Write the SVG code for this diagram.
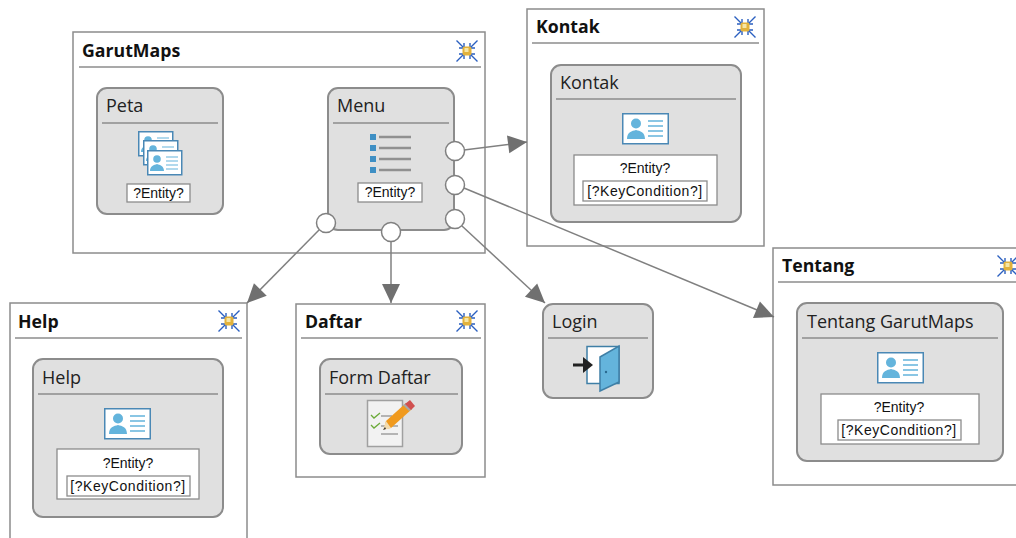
<svg xmlns="http://www.w3.org/2000/svg" width="1016" height="538" viewBox="0 0 1016 538">
<style>
.win{fill:#fff;stroke:#8c8c8c;stroke-width:1.5}
.box{fill:#e0e0e0;stroke:#8c8c8c;stroke-width:2}
.sep{stroke:#8c8c8c;stroke-width:1.5;fill:none}
.wt{font:bold 17.7px "Open Sans","Noto Sans",sans-serif;fill:#111}
.nt{font:18px "Open Sans","Noto Sans",sans-serif;fill:#222}
.lb{font:14px "Liberation Sans",Arial,sans-serif;fill:#111;text-anchor:middle}
.kc{letter-spacing:.55px}
.wb{fill:#fff;stroke:#8c8c8c;stroke-width:1.3}
.conn{fill:none;stroke:#808080;stroke-width:1.5}
.port{fill:#fff;stroke:#808080;stroke-width:1.5}
</style>
<defs>
<marker id="arr" markerUnits="userSpaceOnUse" markerWidth="21" markerHeight="20" refX="20" refY="10" orient="auto"><path d="M1 1L20 10L1 19Z" fill="#707070"/></marker>
<g id="card">
<rect x="0.75" y="0.75" width="45.5" height="30" fill="#fff" stroke="#4a88b5" stroke-width="1.5"/>
<circle cx="14" cy="10.5" r="5" fill="#64b4dc"/>
<path d="M5 26C5 19 10 18 14 17C18 18 23 19 23 26Z" fill="#64b4dc"/>
<path d="M26 8H41M26 13H41M26 18H41M26 23H41" stroke="#64b4dc" stroke-width="1.5"/>
</g>
<g id="small">
<rect x="0.75" y="0.75" width="34" height="24" fill="#fff" stroke="#4a88b5" stroke-width="1.5"/>
<circle cx="10" cy="9" r="3.8" fill="#64b4dc"/>
<path d="M3 21C3 16 7 15 10 14C13 15 17 16 17 21Z" fill="#64b4dc"/>
<path d="M19 7H31M19 11H31M19 15H31M19 19H31" stroke="#64b4dc" stroke-width="1.2"/>
</g>
<g id="collapse">
<path d="M-10.500-10.500L-3-3M10.500-10.500L3-3M-10.500 10.500L-3 3M10.500 10.500L3 3" stroke="#2a5fc0" stroke-width="1.4" fill="none"/>
<path d="M-3-8V-3H-8M3-8V-3H8M-3 8V3H-8M3 8V3H8" stroke="#2a5fc0" stroke-width="1.4" fill="none"/>
<rect x="-4.500" y="-4.500" width="9" height="9" rx="2" fill="#e2b23c"/>
<rect x="-2.500" y="-3" width="4" height="4" fill="#f6e6a6"/>
</g>
</defs>

<g id="garutmaps">
<rect class="win" x="73" y="32" width="412" height="221"/>
<text class="wt" x="82" y="57">GarutMaps</text>
<path class="sep" d="M79 67H481"/>
<use href="#collapse" x="467" y="51"/>
</g>
<g id="peta">
<rect class="box" x="97" y="88" width="126" height="126" rx="10"/>
<text class="nt" x="106" y="112">Peta</text>
<path class="sep" d="M102 123H218"/>
<use href="#small" x="138" y="131"/>
<use href="#small" x="143" y="140"/>
<use href="#small" x="147" y="150"/>
<rect class="wb" x="127" y="184" width="63" height="18"/>
<text class="lb" x="158.500" y="198">?Entity?</text>
</g>
<g id="menu">
<rect class="box" x="328" y="88" width="126" height="142" rx="10"/>
<text class="nt" x="337" y="112">Menu</text>
<path class="sep" d="M333 123H449"/>
<path d="M370 134h6v6h-6zM370 145h6v6h-6zM370 156h6v6h-6zM370 167h6v6h-6z" fill="#3e8fc4"/>
<path d="M379 137H411M379 148H411M379 159H411M379 170H411" stroke="#909090" stroke-width="2.500"/>
<rect class="wb" x="358" y="183" width="64" height="19"/>
<text class="lb" x="390" y="197">?Entity?</text>
</g>
<g id="kontak">
<rect class="win" x="527" y="9" width="237" height="237"/>
<text class="wt" x="536" y="33">Kontak</text>
<path class="sep" d="M532 43H759"/>
<use href="#collapse" x="745" y="27"/>
<rect class="box" x="551" y="65" width="190" height="157" rx="10"/>
<text class="nt" x="560" y="89">Kontak</text>
<path class="sep" d="M556 99H736"/>
<use href="#card" x="622" y="113"/>
<rect class="wb" x="574" y="155" width="143" height="50"/>
<text class="lb" x="645" y="173">?Entity?</text>
<rect class="wb" x="583" y="181" width="124" height="20"/>
<text class="lb kc" x="645" y="196">[?KeyCondition?]</text>
</g>
<g id="tentang">
<rect class="win" x="773" y="248" width="250" height="237"/>
<text class="wt" x="782" y="272">Tentang</text>
<path class="sep" d="M778 282H1016"/>
<use href="#collapse" x="1008" y="266"/>
<rect class="box" x="797" y="303" width="206" height="158" rx="10"/>
<text class="nt" x="807" y="328">Tentang GarutMaps</text>
<path class="sep" d="M802 338H998"/>
<use href="#card" x="877" y="352"/>
<rect class="wb" x="821" y="394" width="158" height="50"/>
<text class="lb" x="899" y="412">?Entity?</text>
<rect class="wb" x="838" y="420" width="123" height="20"/>
<text class="lb kc" x="899" y="435">[?KeyCondition?]</text>
</g>
<g id="help">
<rect class="win" x="10" y="303" width="237" height="245"/>
<text class="wt" x="18" y="328">Help</text>
<path class="sep" d="M15 338H242"/>
<use href="#collapse" x="229" y="321"/>
<rect class="box" x="33" y="359" width="190" height="158" rx="10"/>
<text class="nt" x="42" y="384">Help</text>
<path class="sep" d="M38 394H218"/>
<use href="#card" x="104" y="408"/>
<rect class="wb" x="57" y="449" width="142" height="50"/>
<text class="lb" x="128" y="468">?Entity?</text>
<rect class="wb" x="67" y="476" width="123" height="20"/>
<text class="lb kc" x="128" y="491">[?KeyCondition?]</text>
</g>
<g id="daftar">
<rect class="win" x="296" y="304" width="189" height="173"/>
<text class="wt" x="305" y="328">Daftar</text>
<path class="sep" d="M301 338H481"/>
<use href="#collapse" x="467" y="321"/>
<rect class="box" x="320" y="359" width="142" height="95" rx="10"/>
<text class="nt" x="329" y="384">Form Daftar</text>
<path class="sep" d="M325 394H458"/>
<rect x="367.500" y="400.500" width="35" height="46" fill="#f2f2f2" stroke="#a0a0a0" stroke-width="1.5"/>
<path d="M371 415l3 3 6-5M371 425l3 3 6-5" fill="none" stroke="#6cab3a" stroke-width="1.3"/>
<path d="M381 416H392M381 426H398M381 434H398" stroke="#777" stroke-width="1" fill="none"/>
<path d="M386 421L406 403L412 409L391 428L384 429Z" fill="#f09a1e"/>
<path d="M386 421L391 428L383 430Z" fill="#f3dcb0"/>
<path d="M385 427L386 429L383 430Z" fill="#333"/>
<path d="M406 403L409 406L412 409L409 411L403 405Z" fill="#a8a8a8"/>
<path d="M405 404L410 400L415 406L411 410Z" fill="#d05050"/>
</g>
<g id="login">
<rect class="box" x="543" y="304" width="110" height="94" rx="10"/>
<text class="nt" x="552" y="328">Login</text>
<path class="sep" d="M548 338H648"/>
<rect x="587" y="346.500" width="32" height="37" fill="#fff" stroke="#3f7fa6" stroke-width="1.5"/>
<path d="M600 357L619 346V382L600 391Z" fill="#64b4dc" stroke="#3f7fa6" stroke-width="1.5"/>
<circle cx="606" cy="372" r="1.2" fill="#2a6a90"/>
<path d="M573 365H584" stroke="#222" stroke-width="3"/>
<path d="M583 357L593 365L583 373Z" fill="#222"/>
</g>
<g id="connectors">
<path class="conn" marker-end="url(#arr)" d="M464 150L527 142"/>
<path class="conn" marker-end="url(#arr)" d="M464 188L774 317"/>
<path class="conn" marker-end="url(#arr)" d="M462 226L545 303"/>
<path class="conn" marker-end="url(#arr)" d="M391 241V303"/>
<path class="conn" marker-end="url(#arr)" d="M319 230L247 303"/>
<circle class="port" cx="455" cy="151" r="9.500"/>
<circle class="port" cx="455" cy="185" r="9.500"/>
<circle class="port" cx="455" cy="219" r="9.500"/>
<circle class="port" cx="326" cy="223" r="9.500"/>
<circle class="port" cx="391" cy="232" r="9.500"/>
</g>
</svg>
